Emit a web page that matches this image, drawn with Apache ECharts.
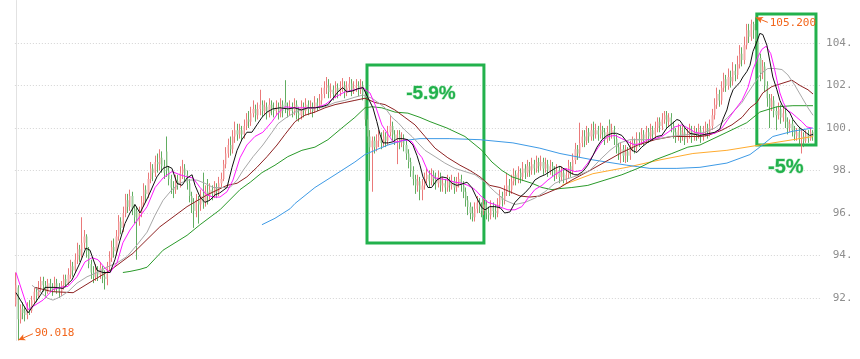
<!DOCTYPE html>
<html><head><meta charset="utf-8">
<script src="https://cdn.jsdelivr.net/npm/echarts@6/dist/echarts.min.js"></script>
<style>html,body{margin:0;padding:0;background:#fff}#c{width:860px;height:359px}</style>
</head><body><div id="c"></div>
<script>
// ---- candle data (open / close / low / high), one entry per trading day ----
const opens=[91.7,92.5,91.0,91.5,91.4,91.2,91.6,91.4,91.9,92.3,
92.1,92.5,92.8,92.6,92.3,92.7,92.5,92.4,92.7,92.5,
92.3,92.6,92.9,92.7,93.1,93.5,93.3,93.8,94.3,94.0,
94.6,94.9,94.2,93.6,93.2,93.0,93.3,93.1,93.4,93.0,
92.9,93.5,93.9,94.4,94.2,94.9,95.6,95.3,96.0,96.6,
96.3,96.8,96.2,96.1,95.6,96.0,96.5,97.1,96.9,97.6,
98.1,97.9,98.4,98.3,98.6,98.2,98.9,98.0,97.6,97.2,
97.1,97.5,97.4,97.9,98.1,97.8,97.4,96.8,96.5,96.1,
96.6,96.4,96.8,96.5,97.0,96.8,97.1,96.9,97.2,97.0,
97.4,97.6,98.3,98.8,99.2,99.0,99.6,99.9,99.7,99.9,
99.7,100.1,100.4,100.3,100.7,100.9,100.6,100.9,101.1,100.8,
101.0,100.7,101.1,100.9,100.8,101.0,100.7,101.1,101.2,100.9,
100.8,101.0,100.8,101.1,100.7,100.6,101.0,100.8,101.1,100.9,
101.0,100.8,101.2,101.0,101.3,101.6,101.9,102.0,101.7,101.8,
101.6,101.9,101.7,101.9,102.0,101.7,101.9,102.1,101.8,101.9,
102.0,101.8,102.0,101.6,100.4,99.6,99.1,99.4,99.1,99.4,
99.6,99.3,99.6,99.4,99.8,100.1,99.7,99.5,99.7,99.3,
99.5,99.2,98.8,98.4,98.0,97.6,97.3,97.5,97.1,97.3,
97.6,97.8,97.5,97.8,97.6,97.4,97.7,97.3,97.4,97.2,
97.5,97.3,97.5,97.2,97.4,97.6,97.3,97.0,96.6,96.3,
96.0,95.8,96.2,96.5,96.3,96.1,96.4,96.0,95.9,96.3,
96.1,96.0,96.4,96.8,96.6,97.0,97.3,97.1,97.5,97.8,
97.6,97.9,97.7,98.1,97.9,98.2,98.0,98.3,98.1,98.4,
98.2,98.4,98.1,98.3,98.0,98.2,98.0,97.8,98.0,97.7,
97.9,97.6,97.8,98.2,98.0,98.5,99.0,98.8,99.3,99.6,
99.4,99.8,99.6,99.9,99.7,99.9,99.7,99.9,99.8,99.5,
100.2,99.7,99.9,99.5,99.1,98.8,99.0,98.7,98.9,98.7,
99.1,99.3,99.1,99.5,99.4,99.7,99.5,99.8,99.6,99.9,
99.7,100.0,100.3,100.1,100.4,100.6,100.3,100.5,100.1,99.8,
99.6,99.9,99.6,99.8,99.5,99.7,99.9,99.6,99.8,99.7,
99.9,99.6,99.8,100.0,99.8,100.1,100.6,101.1,101.6,101.3,
101.9,102.3,102.0,102.4,102.2,102.7,102.5,103.0,103.5,103.2,
103.9,104.6,104.3,104.9,104.6,104.1,103.3,102.6,102.9,102.0,
101.4,101.0,101.3,100.8,100.6,100.9,100.5,100.7,100.3,100.0,
100.2,99.9,99.6,99.8,99.5,99.6,99.4,99.7,99.5,99.8];
const closes=[92.6,91.0,91.5,91.3,91.2,91.6,91.4,91.9,92.3,92.1,
92.5,92.8,92.6,92.3,92.7,92.5,92.4,92.7,92.5,92.3,
92.6,92.9,92.7,93.1,93.5,93.3,93.8,94.3,94.0,94.6,
94.9,94.2,93.6,93.2,93.0,93.3,93.1,93.4,93.0,92.9,
93.5,93.9,94.4,94.2,94.9,95.6,95.3,96.0,96.6,96.3,
96.8,96.2,95.8,95.6,96.0,96.5,97.1,96.9,97.6,98.1,
97.9,98.4,98.3,98.6,98.2,97.9,98.0,97.6,97.2,97.1,
97.5,97.4,97.9,98.1,97.8,97.4,96.8,96.5,96.1,96.6,
96.4,96.8,96.5,97.0,96.8,97.1,96.9,97.2,97.0,97.4,
97.6,98.3,98.8,99.2,99.0,99.6,99.9,99.7,99.9,99.7,
100.1,100.4,100.3,100.7,100.9,100.6,100.9,101.1,100.8,101.0,
100.7,101.1,100.9,100.8,101.0,100.7,101.1,100.8,100.9,100.8,
101.0,100.8,101.1,100.7,100.6,101.0,100.8,101.1,100.9,101.0,
100.8,101.2,101.0,101.3,101.6,101.9,102.0,101.7,101.8,101.6,
101.9,101.7,101.9,102.0,101.7,101.9,102.1,101.8,101.9,102.0,
101.8,102.0,101.6,100.4,99.6,99.1,99.4,99.1,99.4,99.6,
99.3,99.6,99.4,99.8,100.1,99.7,99.5,99.7,99.3,99.5,
99.2,98.8,98.4,98.0,97.6,97.3,97.5,97.1,97.3,97.6,
97.8,97.5,97.8,97.6,97.4,97.7,97.3,97.4,97.2,97.5,
97.3,97.5,97.2,97.4,97.6,97.3,97.0,96.6,96.3,96.0,
95.8,96.2,96.5,96.3,96.1,96.4,96.0,95.9,96.3,96.1,
96.0,96.4,96.8,96.6,97.0,97.3,97.1,97.5,97.8,97.6,
97.9,97.7,98.1,97.9,98.2,98.0,98.3,98.1,98.4,98.2,
98.4,98.1,98.3,98.0,98.2,98.0,97.8,98.0,97.7,97.9,
97.6,97.8,98.2,98.0,98.5,99.0,98.8,99.3,99.6,99.4,
99.8,99.6,99.9,99.7,99.9,99.7,99.9,99.8,99.5,99.8,
99.7,99.9,99.5,99.1,98.8,99.0,98.7,98.9,98.7,99.1,
99.3,99.1,99.5,99.4,99.7,99.5,99.8,99.6,99.9,99.7,
100.0,100.3,100.1,100.4,100.6,100.3,100.5,100.1,99.8,99.6,
99.9,99.6,99.8,99.5,99.7,99.9,99.6,99.8,99.7,99.9,
99.6,99.8,100.0,99.8,100.1,100.6,101.1,101.6,101.3,101.9,
102.3,102.0,102.4,102.2,102.7,102.5,103.0,103.5,103.2,103.9,
104.6,104.3,104.9,104.6,104.1,103.3,102.6,102.9,102.0,101.4,
101.0,101.3,100.8,100.6,100.9,100.5,100.7,100.3,100.0,100.2,
99.9,99.7,99.8,99.5,99.6,99.4,99.7,99.5,99.8,99.6];
const lows=[91.6,90.018,90.8,91.0,90.9,91.0,91.2,91.3,91.7,91.8,
92.0,92.3,92.3,92.1,92.2,92.3,92.1,92.3,92.2,92.0,
92.1,92.4,92.5,92.6,92.9,93.0,93.2,93.6,93.7,93.9,
94.3,93.9,93.4,92.9,92.7,92.8,92.8,92.9,92.7,92.4,
92.6,93.3,93.7,93.9,94.0,94.7,95.0,95.1,95.8,96.0,
96.1,95.9,95.5,93.8,95.4,95.8,96.3,96.5,96.7,97.4,
97.5,97.7,97.9,98.0,97.9,97.6,97.7,97.3,96.9,96.7,
96.9,97.1,97.2,97.6,97.5,97.1,96.5,96.0,95.3,95.8,
95.5,96.1,96.2,96.3,96.4,96.6,96.6,96.7,96.7,96.8,
97.2,97.5,98.1,98.6,98.7,98.8,99.3,99.4,99.5,99.4,
99.5,99.9,100.0,100.1,100.5,100.3,100.4,100.6,100.5,100.6,
100.4,100.5,100.6,100.5,100.6,100.4,100.5,100.5,100.7,100.5,
100.6,100.5,100.6,100.4,100.3,100.4,100.5,100.6,100.6,100.7,
100.5,100.7,100.8,100.9,101.1,101.4,101.6,101.4,101.4,101.3,
101.4,101.4,101.5,101.7,101.4,101.5,101.7,101.5,101.6,101.7,
101.5,101.6,101.3,100.1,99.3,97.5,97.0,98.8,98.9,99.1,
99.0,99.1,99.1,99.2,99.6,99.4,99.2,98.3,99.0,99.1,
98.9,98.5,98.1,97.7,97.3,96.9,97.0,96.6,96.6,97.1,
97.4,97.2,97.3,97.3,97.1,97.2,97.0,97.0,96.9,97.0,
97.0,97.1,96.9,97.0,97.2,97.0,96.7,96.3,95.9,95.7,
95.6,95.6,96.0,96.0,95.8,95.9,95.7,95.6,95.7,95.8,
95.7,95.8,96.2,96.3,96.4,96.8,96.8,96.9,97.3,97.3,
97.4,97.4,97.5,97.6,97.7,97.7,97.8,97.8,97.9,97.9,
98.0,97.8,97.9,97.7,97.8,97.7,97.5,97.6,97.4,97.5,
97.4,97.4,97.6,97.7,97.8,98.3,98.5,98.6,99.1,99.1,
99.2,99.3,99.4,99.4,99.5,99.4,99.5,99.5,99.2,99.3,
99.4,99.5,99.2,98.8,98.5,98.35,98.4,98.35,98.4,98.5,
98.9,98.8,98.9,99.1,99.2,99.2,99.3,99.3,99.4,99.4,
99.5,99.8,99.8,99.9,100.2,100.0,100.1,99.8,99.5,99.3,
99.4,99.3,99.4,99.2,99.3,99.5,99.3,99.4,99.4,99.5,
99.3,99.4,99.6,99.5,99.6,99.9,100.4,100.9,101.0,101.1,
101.7,101.7,101.8,101.9,102.0,102.2,102.3,102.8,102.9,103.0,
103.7,104.0,104.1,104.2,103.7,103.0,102.2,102.3,101.7,101.0,
100.0,100.8,100.5,99.9,100.4,100.2,100.3,100.0,99.7,99.8,
99.6,99.4,99.4,99.2,98.8,99.1,99.3,99.3,99.4,99.4];
const highs=[93.2,92.6,91.7,91.8,91.6,91.8,91.9,92.1,92.5,92.5,
92.8,93.0,93.0,92.8,92.9,92.9,92.7,93.0,92.9,92.7,
92.8,93.1,93.1,93.4,93.8,93.7,94.1,94.6,94.5,95.8,
95.2,95.0,94.4,93.8,93.5,93.6,93.5,93.7,93.5,93.3,
93.7,94.2,94.7,94.8,95.2,95.9,95.8,96.3,96.9,96.9,
97.1,97.0,96.4,96.3,96.3,96.8,97.4,97.3,97.9,98.4,
98.3,98.7,98.8,99.0,98.9,98.5,99.6,98.2,97.8,97.5,
97.8,97.8,98.2,98.5,98.3,98.0,97.6,97.0,96.7,96.9,
96.8,97.1,97.9,97.3,97.6,97.4,97.3,97.5,97.4,97.7,
97.9,98.5,99.1,99.5,99.6,99.9,100.3,100.2,100.2,100.1,
100.4,100.7,100.8,101.0,101.3,101.1,101.2,101.8,101.3,101.3,
101.2,101.4,101.3,101.2,101.3,101.2,101.4,101.3,102.25,101.2,
101.3,101.2,101.4,101.3,101.0,101.3,101.2,101.4,101.3,101.3,
101.2,101.5,101.4,101.6,101.9,102.2,102.4,102.3,102.1,102.0,
102.2,102.1,102.2,102.35,102.2,102.2,102.4,102.3,102.2,102.3,
102.2,102.3,102.2,101.8,100.6,99.9,99.6,99.6,99.7,99.9,
99.8,99.9,99.8,100.1,100.6,100.3,99.9,99.9,99.9,99.8,
99.7,99.4,99.0,98.6,98.2,97.8,97.8,97.7,97.6,97.9,
98.1,98.0,98.1,98.0,97.9,98.0,97.9,97.7,97.6,97.8,
97.7,97.8,97.7,97.7,97.9,97.8,97.5,97.2,96.8,96.5,
96.3,96.5,96.8,96.7,96.5,96.7,96.6,96.3,96.6,96.5,
96.4,96.7,97.1,97.0,97.3,97.9,97.6,97.8,98.1,98.0,
98.2,98.1,98.4,98.3,98.5,98.4,98.6,98.5,98.7,98.6,
98.7,98.6,98.6,98.5,98.5,98.4,98.2,98.3,98.2,98.2,
98.1,98.1,98.5,98.4,98.8,99.3,99.2,100.25,99.9,99.9,
100.1,100.0,100.2,100.3,100.2,100.1,100.25,100.1,100.0,100.1,
100.4,100.2,100.1,99.7,99.3,99.3,99.2,99.2,99.1,99.4,
99.6,99.5,99.8,99.8,100.0,99.9,100.1,100.0,100.2,100.1,
100.3,100.5,100.5,100.7,100.8,100.8,100.7,100.7,100.3,100.0,
100.2,100.1,100.1,100.0,100.0,100.2,100.1,100.1,100.0,100.2,
100.1,100.1,100.3,100.2,100.4,100.9,101.4,101.9,101.8,102.2,
102.6,102.5,102.8,102.7,103.1,103.0,103.4,103.9,103.8,104.3,
104.9,104.9,105.1,105.0,105.2,104.2,103.5,103.2,103.1,102.2,
101.6,101.6,101.5,101.0,101.2,101.1,101.0,100.9,100.5,100.4,
100.4,100.1,100.0,100.0,99.9,99.8,99.9,99.9,100.0,99.9];

// ---- moving-average lines: [day index, value] ----
const ma5=[[0,92.25],[5.3,91.3],[10.5,92.1],[12.7,92.5],[17.1,92.5],[20.6,92.45],[24.5,92.85],[28,93.65],[30.6,94.35],[32.4,94.25],[35.5,93.3],[38.1,93.2],[41.2,93.2],[43.3,93.8],[45.5,94.7],[47.7,95.5],[49.9,96.0],[52.1,96.4],[54.3,96.0],[57.8,96.75],[61.7,97.7],[64.4,98.1],[66.5,98.2],[68.3,98.1],[70.5,97.4],[72.7,97.3],[74.9,97.65],[77.1,97.8],[78.4,97.3],[80.6,96.75],[82.7,96.5],[84.9,96.6],[87.1,96.85],[89.3,96.95],[92.4,97.2],[94.6,98.15],[96.8,98.95],[98.9,99.45],[101.1,99.8],[103.3,99.8],[105.5,100.15],[107.7,100.5],[109.9,100.75],[112.5,100.9],[115.6,100.95],[119,100.9],[122,100.95],[125,100.85],[127.8,100.95],[131,100.95],[134,101.0],[136.6,101.1],[138.8,101.4],[141,101.7],[143,101.9],[145,101.7],[147.5,101.75],[149.7,101.85],[152,101.9],[154,101.45],[156.3,100.95],[158,100.3],[159.4,99.7],[160.7,99.3],[163,99.3],[165,99.35],[167,99.5],[169.4,99.5],[171.6,99.45],[173.8,99.2],[175.6,98.7],[176.9,98.25],[178.2,97.7],[180.4,97.2],[182,97.2],[184.3,97.55],[186.5,97.7],[188.7,97.65],[190.9,97.4],[193,97.3],[195,97.35],[197.5,97.45],[199.6,97.2],[201.8,96.7],[204,96.25],[205.4,96.15],[207.5,96.3],[209.7,96.3],[212,96.25],[214,96.0],[216.3,96.05],[218.5,96.5],[220.7,96.75],[222.9,96.95],[225,97.2],[227.2,97.55],[229.4,97.7],[231.6,97.8],[233.8,97.95],[236,98.1],[238.2,98.2],[240.4,98.05],[242.6,97.9],[244.7,97.8],[246,97.8],[248.2,97.95],[250.4,98.25],[252.6,98.7],[254.4,99.1],[256.6,99.45],[258.8,99.65],[261,99.75],[263,99.75],[265.3,99.65],[267.5,99.35],[269.7,98.95],[271.9,98.85],[274,99.1],[276.3,99.3],[278.5,99.45],[280.6,99.6],[282.8,99.65],[285,100.0],[287.2,100.2],[289.4,100.4],[290.7,100.35],[293,100.0],[295,99.75],[297.3,99.7],[299.5,99.65],[301.7,99.7],[303.9,99.75],[306,99.8],[308.2,99.95],[309.5,100.4],[311.3,100.85],[312.6,101.4],[314,101.8],[315.7,102.0],[317,102.15],[318.3,102.4],[320,102.65],[321.4,102.95],[322.7,103.6],[324.4,104.05],[325.7,104.45],[327,104.4],[328.8,103.9],[330,103.2],[331.4,102.4],[333.2,101.8],[334.5,101.3],[335.8,101.0],[337.6,100.85],[338.9,100.7],[340.2,100.4],[342,100.15],[343.3,100.0],[344.6,99.9],[346.3,99.75],[347.6,99.65],[349,99.7]];
const ma10=[[0,93.2],[5.3,91.45],[7.4,91.6],[11.8,91.9],[16.2,92.4],[19.3,92.5],[22.8,92.55],[26.7,93.0],[30.2,93.7],[33.3,93.9],[35.9,93.8],[39,93.4],[41.2,93.2],[44.2,93.65],[46.8,94.6],[49.9,95.2],[53,95.65],[57.4,96.3],[60.9,97.2],[64.4,97.65],[68.3,97.95],[71.8,97.8],[74.9,97.7],[77.5,97.65],[80.6,97.2],[83.6,96.85],[86.3,96.75],[89.3,96.75],[92.4,97.0],[95,97.55],[98.1,98.6],[101.1,99.2],[104.6,99.6],[108.1,99.8],[112.1,100.3],[114.7,100.7],[117.8,101.0],[122.2,100.95],[126.5,100.95],[130.9,100.95],[135.3,101.1],[139.7,101.45],[144,101.7],[148.4,101.8],[151.9,101.9],[155,101.65],[157.2,101.1],[160.2,100.15],[162.9,99.7],[165.1,99.35],[167.3,99.35],[170.3,99.45],[173.4,99.35],[176,98.85],[177.8,98.6],[180.4,97.95],[183.5,97.65],[186.5,97.6],[189.1,97.55],[192.2,97.45],[195.3,97.4],[197.9,97.3],[201,97.1],[204,96.75],[206.7,96.5],[209.7,96.4],[212.8,96.25],[215.4,96.15],[218.5,96.15],[221.5,96.3],[224.2,96.7],[227.2,97.1],[230.3,97.3],[232.9,97.55],[236,97.8],[240.4,98.1],[244.7,97.95],[247.8,98.0],[250.4,98.35],[253.5,98.85],[256.6,99.35],[259.2,99.6],[262.3,99.65],[265.3,99.5],[268,99.35],[271,99.2],[274.1,99.3],[276.7,99.45],[279.8,99.5],[282.8,99.6],[285.5,99.8],[288.5,100.05],[291.6,100.15],[294.2,100.0],[297.3,99.8],[301.7,99.7],[306,99.75],[309.1,100.0],[311.7,100.4],[314.8,100.85],[317.9,101.3],[320.5,101.9],[322.7,102.75],[324.9,103.35],[326.6,103.7],[328.5,103.85],[330.5,103.5],[332,102.85],[333.2,102.25],[334.5,101.65],[336,101.2],[337.6,100.85],[339.8,100.7],[341.9,100.5],[344.1,100.3],[346.3,100.05],[348.5,100.0]];
const ma20=[[7,92.6],[10.5,92.3],[13.6,92.0],[16.2,91.9],[19.3,92.05],[22.8,92.3],[26.7,92.7],[31.1,93.0],[35.5,93.2],[39.8,93.45],[44.2,93.65],[48.6,93.95],[53,94.5],[57.4,95.1],[60.9,95.9],[64.4,96.6],[68.3,97.1],[71.8,97.4],[75.3,97.55],[79.2,97.55],[82.7,97.4],[86.3,97.2],[90.2,97.2],[93.7,97.2],[96.8,97.55],[99.4,98.0],[103.8,98.65],[108.1,99.2],[112.1,99.8],[114.7,100.2],[117.8,100.45],[122.2,100.75],[126.5,100.9],[130.9,100.95],[135.3,101.0],[139.7,101.2],[144,101.3],[148.4,101.45],[151.9,101.55],[155.9,101.4],[158.5,101.2],[161.6,100.95],[164.6,100.5],[167.3,100.25],[170.3,99.9],[173.4,99.6],[176,99.3],[179.1,98.95],[183.5,98.65],[187.8,98.35],[192.2,98.1],[196.6,97.95],[201,97.8],[205.3,97.45],[209.7,97.0],[214.1,96.6],[218.5,96.4],[222.9,96.5],[227.2,96.7],[231.6,97.0],[236,97.4],[238.2,97.5],[242.6,97.65],[246.9,97.8],[251.3,98.0],[255.7,98.5],[260.1,98.95],[264.4,99.3],[268.8,99.45],[273.2,99.45],[277.6,99.45],[282,99.5],[286.3,99.6],[290.7,99.65],[295.1,99.7],[299.5,99.75],[301.7,99.8],[306,100.0],[309.1,100.25],[311.7,100.5],[314.8,100.85],[317.9,101.2],[320.5,101.65],[323.6,102.15],[326.6,102.6],[329.2,102.8],[332.3,102.8],[335.4,102.75],[338,102.5],[341.1,102.0],[344.1,101.45],[346.8,100.95],[349,100.6]];
const ma30=[[8.3,92.5],[15.8,92.3],[25,92.25],[34.1,92.85],[41.2,93.3],[51.2,94.1],[63,95.35],[74.9,96.3],[83.6,96.85],[92.4,97.3],[96.8,97.4],[101.1,97.7],[105.5,98.15],[109.9,98.65],[114.3,99.2],[117.8,99.7],[122.2,100.3],[126.5,100.6],[130.9,100.75],[135.3,100.95],[139.7,101.1],[144,101.2],[148.4,101.3],[152.8,101.4],[157.2,101.2],[161.6,101.1],[165.9,100.85],[170.3,100.5],[174.7,100.15],[179.1,99.6],[183.5,99.05],[189.1,98.6],[194.4,98.25],[198.8,98.0],[203.2,97.7],[207.5,97.3],[211.9,97.2],[216.3,97.0],[220.7,96.8],[225,96.75],[229.4,96.8],[233.8,97.0],[238.2,97.2],[243.4,97.55],[250.4,97.95],[257.9,98.4],[265.3,98.85],[272.3,99.2],[279.8,99.45],[287.2,99.6],[294.2,99.6],[299.5,99.6],[303,99.65],[309.1,99.9],[313.5,100.15],[317.9,100.5],[321.4,100.95],[324.4,101.2],[327,101.65],[331,101.95],[335.4,102.1],[339.8,102.25],[343.3,102.0],[346.8,101.8],[349,101.6]];
const ma60=[[46.8,93.2],[49.9,93.25],[54.3,93.35],[57.4,93.45],[64.4,94.25],[74.9,94.95],[80.6,95.45],[89.3,96.15],[98.1,97.1],[102.6,97.45],[107.7,97.9],[113.4,98.25],[119,98.65],[125.2,98.95],[130.9,99.1],[136.6,99.45],[142.7,100.0],[148.4,100.5],[152.8,100.95],[155.9,101.0],[160.2,100.95],[165.9,100.75],[171.6,100.7],[176.9,100.5],[181.3,100.3],[188.7,100.0],[196.6,99.6],[204,98.95],[208.4,98.4],[212.8,98.0],[217.2,97.7],[221.5,97.55],[225.9,97.4],[230.3,97.2],[234.7,97.1],[238.2,97.15],[243.4,97.2],[250.4,97.3],[257.9,97.55],[265.3,97.8],[272.3,98.1],[279.8,98.5],[287.2,98.8],[294.2,99.1],[299.5,99.2],[311.3,99.8],[320,100.25],[325.7,100.75],[333.2,101.0],[340.2,101.05],[349,101.05]];
const ma120=[[107.7,95.45],[113.4,95.75],[120,96.2],[122.2,96.45],[130.9,97.2],[139.7,97.8],[148.4,98.4],[152.8,98.75],[157.2,98.95],[162.9,99.2],[169,99.4],[176.9,99.5],[190,99.5],[203.2,99.45],[212.8,99.35],[217.6,99.3],[229.4,99.05],[238.2,98.8],[252.6,98.5],[267.5,98.25],[277.6,98.1],[289.4,98.1],[299.5,98.15],[311.3,98.35],[321.4,98.75],[325.7,99.1],[331.4,99.6],[340.2,99.85],[349,100.0]];
const ma250=[[239,97.3],[252.6,97.85],[267.5,98.15],[282,98.5],[296.4,98.8],[311.3,98.95],[325.7,99.2],[340.2,99.45],[349,99.6]];

// ---- annotation boxes [start day, end day, top value, bottom value] and texts ----
const boxes=[[153.7,204.9,102.96,94.59],[324.4,350.3,105.36,99.2]];
const boxTexts=[["-5.9%",181.7,101.6,19],["-5%",337.1,98.16,20]];
const yTicks={min:90,max:106,step:2};

const N=opens.length, PAD=3;
const cats=[]; for(let i=0;i<N+PAD;i++) cats.push(String(i+1));
const candles=opens.map((o,i)=>[o,closes[i],lows[i],highs[i]]);
let hiIdx=0, loIdx=0;
highs.forEach((h,i)=>{ if(h>highs[hiIdx]) hiIdx=i; });
lows.forEach((l,i)=>{ if(l<lows[loIdx]) loIdx=i; });

const GREEN='#22b14c', ORANGE='#f2661c';
const maLine=(name,data,color,w)=>({name,type:'line',xAxisIndex:1,yAxisIndex:0,data,showSymbol:false,symbol:'none',silent:true,z:5,
  lineStyle:{color,width:w||1},itemStyle:{color}});

const chart=echarts.init(document.getElementById('c'),null,{renderer:'canvas'});
chart.setOption({
  animation:false,
  backgroundColor:'#ffffff',
  grid:{left:14.86,right:39,top:0.5,bottom:18.5,containLabel:false,outerBoundsMode:'none'},
  xAxis:[
    {type:'category',data:cats,show:false,boundaryGap:true},
    {type:'value',min:-0.5,max:N+PAD-0.5,show:false}
  ],
  yAxis:{type:'value',position:'right',min:yTicks.min,max:yTicks.max,interval:yTicks.step,
    axisLine:{show:true,lineStyle:{color:'#e2e2e2',width:1}},
    axisTick:{show:false},
    axisLabel:{color:'#8e8e8e',fontFamily:'DejaVu Sans Mono',fontSize:11,align:'right',margin:31.5,
      showMinLabel:false,showMaxLabel:false,formatter:v=>v.toFixed(0)+'.'},
    splitLine:{show:true,showMinLine:false,showMaxLine:false,lineStyle:{color:'#d4d4d4',type:[1,2],width:1}}
  },
  series:[
    {name:'wick',type:'candlestick',data:candles,barWidth:0.3,silent:true,z:2,
      itemStyle:{color:'#e86a6a',color0:'#4fa44f',borderColor:'#e86a6a',borderColor0:'#4fa44f',borderWidth:0.9}},
    {name:'body',type:'candlestick',data:candles,barWidth:1.6,silent:true,z:3,
      itemStyle:{color:'#f5aaaa',color0:'#a2cfa2',borderColor:'#f5aaaa',borderColor0:'#a2cfa2',borderWidth:0}},
    maLine('MA250',ma250,'#ffab2e'),
    maLine('MA120',ma120,'#3d9ae6'),
    maLine('MA60',ma60,'#2a9a2a'),
    maLine('MA30',ma30,'#8e2222'),
    maLine('MA20',ma20,'#a8a8a8'),
    maLine('MA10',ma10,'#ff1aff'),
    maLine('MA5',ma5,'#111111'),
    {name:'notes',type:'line',xAxisIndex:1,yAxisIndex:0,data:[],silent:true,z:10,clip:false,
      markArea:{silent:true,label:{show:false},
        itemStyle:{color:'rgba(0,0,0,0)',borderColor:GREEN,borderWidth:3},
        data:boxes.map(b=>[{coord:[b[0],b[2]]},{coord:[b[1],b[3]]}])},
      markPoint:{silent:true,symbol:'rect',symbolSize:1,itemStyle:{color:'rgba(0,0,0,0)'},
        data:boxTexts.map(t=>({name:t[0],coord:[t[1],t[2]],
          label:{show:true,position:'inside',formatter:'{b}',color:GREEN,fontSize:t[3],fontWeight:'bold',
            fontFamily:'Liberation Sans',textBorderColor:'rgba(140,220,160,0.7)',textBorderWidth:1}}))},
      markLine:{silent:true,symbol:['arrow','none'],symbolSize:[5,7],precision:3,
        lineStyle:{color:ORANGE,width:1,type:'solid'},
        label:{show:true,position:'end',distance:2,color:ORANGE,fontFamily:'DejaVu Sans Mono',fontSize:11},
        data:[
          [{coord:[hiIdx,highs[hiIdx]],label:{formatter:highs[hiIdx].toFixed(3)}},{coord:[hiIdx+5.2,highs[hiIdx]-0.23]}],
          [{coord:[loIdx,lows[loIdx]],label:{formatter:lows[loIdx].toFixed(3)}},{coord:[loIdx+6.4,lows[loIdx]+0.3]}]
        ]}
    }
  ]
});
</script></body></html>
